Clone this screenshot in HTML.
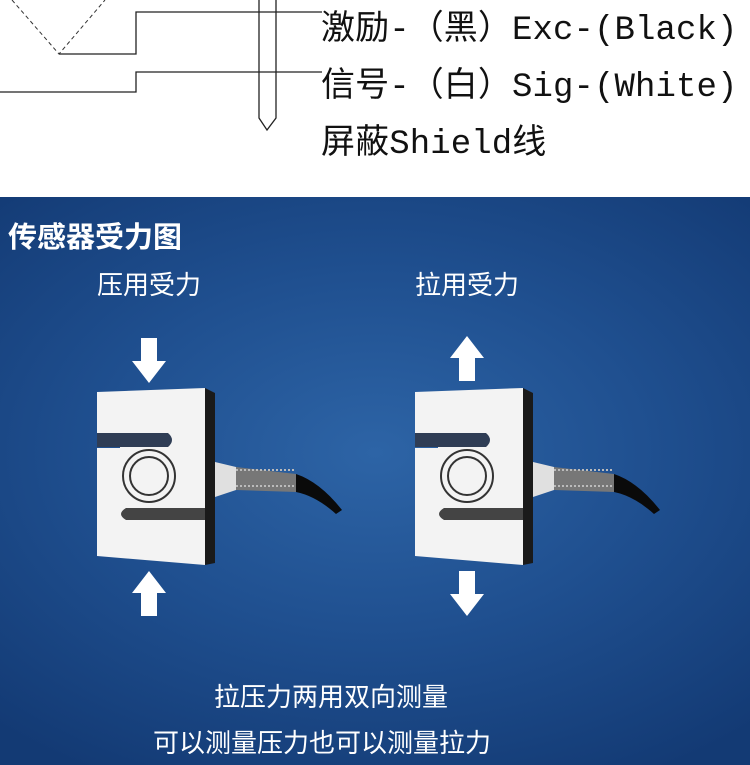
<!DOCTYPE html>
<html><head><meta charset="utf-8"><style>
html,body{margin:0;padding:0;width:750px;height:765px;overflow:hidden;background:#fff}
.t{position:absolute;font-family:"Liberation Mono","Noto Sans CJK SC",monospace;font-size:34px;color:#111;white-space:nowrap;left:321px;letter-spacing:0.1px}
.blue{position:absolute;left:0;top:197px;width:750px;height:568px;background:radial-gradient(ellipse 75% 65% at 50% 45%,#2d64a6 0%,#1f4f8f 50%,#133a74 100%)}
.w{position:absolute;color:#fff;font-family:"Liberation Sans","Noto Sans CJK SC",sans-serif;white-space:nowrap}
</style></head><body>
<svg width="750" height="197" style="position:absolute;left:0;top:0">
<path d="M12 0 L59 54 L105 0" fill="none" stroke="#333" stroke-width="1" stroke-dasharray="4,3"/>
<path d="M59 54 H136 V12 H322" fill="none" stroke="#222" stroke-width="1.3"/>
<path d="M0 92 H136 V72 H322" fill="none" stroke="#222" stroke-width="1.3"/>
<path d="M259 0 V118 L267 130 L276 118 V0" fill="none" stroke="#222" stroke-width="1.3"/>
</svg>
<div class="t" style="top:0px">激励-（黑）Exc-(Black)</div>
<div class="t" style="top:57px">信号-（白）Sig-(White)</div>
<div class="t" style="top:114px">屏蔽Shield线</div>
<div class="blue"></div>
<div class="w" style="left:8px;top:214px;font-size:29px;font-weight:bold">传感器受力图</div>
<div class="w" style="left:97px;top:265px;font-size:26px">压用受力</div>
<div class="w" style="left:415px;top:265px;font-size:26px">拉用受力</div>
<svg width="750" height="765" style="position:absolute;left:0;top:0">
<defs>
<g id="cell">
<polygon points="205,388 215,393 215,563 205,565" fill="#1a1a1a"/>
<path d="M97 392 L205 388 L205 565 L97 556 L97 448 L120 448 L120 433 L97 433 Z" fill="#f3f3f3"/>
<path d="M97 433 H168 Q176 440 168 447 H97 Z" fill="#2f3d55"/>
<path d="M205 508 H126 Q116 514 126 520 H205 Z" fill="#444"/>
<circle cx="149" cy="476" r="26" fill="none" stroke="#333" stroke-width="2"/>
<circle cx="149" cy="476" r="19" fill="none" stroke="#333" stroke-width="2"/>
<polygon points="215,462 236,467 236,490 215,497" fill="#e0e0e0"/>
<polygon points="236,467 296,474 296,492 236,490" fill="#777"/>
<path d="M236 470 H296 M236 486 H296" stroke="#bbb" stroke-width="2" stroke-dasharray="2,2"/>
<path d="M296 474 Q320 482 342 510 L336 514 Q316 496 296 492 Z" fill="#0a0a0a"/>
</g>
</defs>
<use href="#cell"/>
<use href="#cell" transform="translate(318,0)"/>
<polygon points="141,338 157,338 157,361 166,361 149,383 132,361 141,361" fill="#fff"/>
<polygon points="149,571 166,593 157,593 157,616 141,616 141,593 132,593" fill="#fff"/>
<g transform="translate(318,0)">
<polygon points="149,336 166,358 157,358 157,381 141,381 141,358 132,358" fill="#fff"/>
<polygon points="141,571 157,571 157,594 166,594 149,616 132,594 141,594" fill="#fff"/>
</g>
</svg>
<div class="w" style="left:214px;top:677px;font-size:26px">拉压力两用双向测量</div>
<div class="w" style="left:153px;top:723px;font-size:26px">可以测量压力也可以测量拉力</div>
</body></html>
